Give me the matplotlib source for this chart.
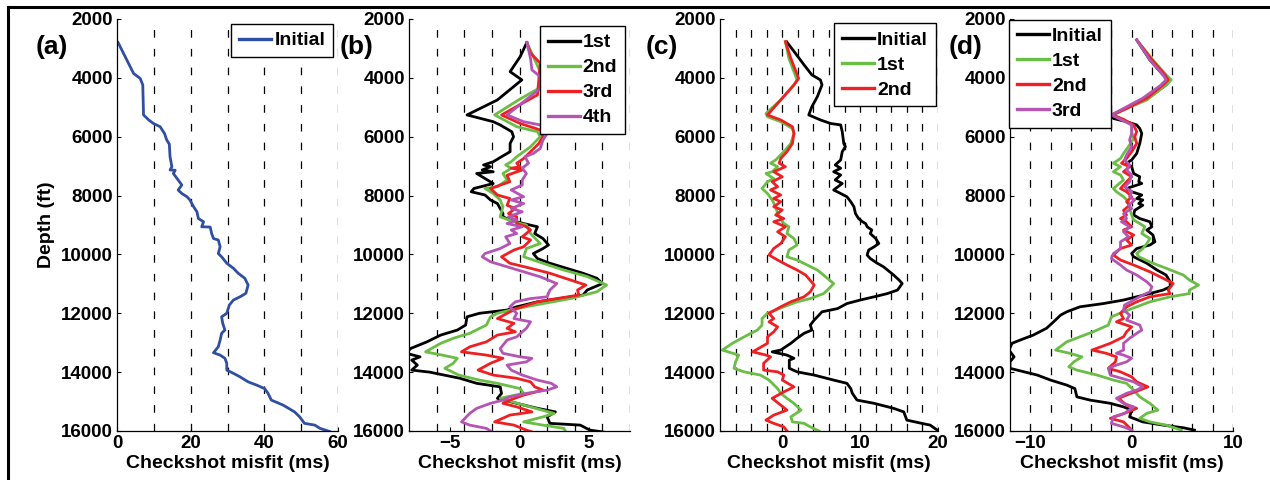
import numpy as np
import matplotlib
matplotlib.use('Agg')
import matplotlib.pyplot as plt
from matplotlib.lines import Line2D

plt.rcParams['font.family'] = ['Liberation Sans', 'DejaVu Sans']
plt.rcParams['font.weight'] = 'bold'
plt.rcParams['lines.scale_dashes'] = False

# colours
BLUE = '#2f4fa2'
BLACK = '#000000'
GREEN = '#6abd45'
RED = '#ee2024'
PURPLE = '#b455b4'

# ---- (a) initial model misfit
a_init_depth = [2800, 3850, 4020, 4240, 5260, 5430, 5550, 5660, 5890, 6110, 6250, 6680, 7020, 7130, 7140,
                7250, 7470, 7640, 7810, 7930, 8040, 8150, 8380, 8550, 8780, 8890, 9060, 9070, 9290, 9460,
                9510, 9740, 9970, 10080, 10300, 10470, 10640, 10810, 11040, 11320, 11440, 11550, 11720,
                12000, 12120, 12340, 12570, 12680, 12910, 13140, 13340, 13420, 13530, 13700, 13930, 14040,
                14160, 14330, 14440, 14560, 14720, 14950, 15120, 15350, 15520, 15740, 15800, 15910, 16020]
a_init_misfit = [0.3, 4.5, 6.3, 7.0, 7.2, 8.6, 9.9, 11.7, 12.9, 13.5, 14.2, 14.4, 14.9, 14.4, 15.8,
                 15.3, 16.6, 17.6, 16.6, 17.6, 19.0, 19.8, 20.8, 21.7, 22.1, 23.5, 23.0, 25.3, 25.7, 26.2,
                 27.5, 28.0, 27.5, 28.4, 29.8, 31.6, 32.9, 34.7, 35.6, 35.0, 33.4, 31.6, 30.5,
                 29.8, 28.4, 28.7, 29.3, 28.4, 28.0, 27.5, 26.2, 28.0, 29.3, 29.8, 29.8, 31.6,
                 33.4, 35.6, 37.9, 40.1, 41.0, 41.9, 45.1, 48.2, 49.6, 50.9, 53.7, 55.1, 57.8]

# ---- (b) iterations 1st..4th
b_1st_depth = [2800, 3280, 3790, 4070, 4750, 5260, 5490, 5600, 5830, 6000, 6230, 6510, 6680, 6850, 6960,
               7020, 7130, 7190, 7250, 7420, 7590, 7760, 7870, 7980, 8150, 8270, 8440, 8610, 8720, 8830,
               8950, 9060, 9290, 9460, 9680, 9800, 9970, 10140, 10300, 10470, 10640, 10810, 10990, 11210,
               11380, 11500, 11610, 11780, 11890, 12000, 12120, 12400, 12570, 12740, 12970, 13200, 13360,
               13480, 13590, 13760, 13930, 14000, 14210, 14380, 14500, 14720, 14890, 15060, 15230, 15350,
               15520, 15740, 15800, 15970, 16050]
b_1st_misfit = [0.53, 0.05, -0.68, 0.17, -1.6, -3.8, -1.9, -1.4, -0.56, -0.43, -0.68, -0.68, -1.3, -1.9, -2.6,
                -2.1, -2.7, -1.9, -3.1, -2.5, -1.9, -3.3, -3.5, -2.5, -2.1, -1.6, -1.4, -1.2, -1.2, -0.7,
                0.3, 1.3, 1.1, 1.7, 2.1, 1.7, 1.0, 1.3, 2.2, 3.4, 4.6, 5.6, 6.0, 4.9,
                4.6, 2.9, 1.3, -0.2, -0.9, -2.9, -3.8, -3.9, -4.5, -5.7, -6.7, -7.9, -8.2,
                -7.2, -7.8, -7.4, -7.8, -6.5, -4.3, -3.1, -1.4, -1.3, -1.6, -0.2, 1.3, 2.6,
                2.0, 2.2, 4.4, 5.1, 6.3]
b_2nd_depth = [2800, 3790, 4300, 4750, 5260, 5660, 5830, 6000, 6340, 6680, 6850, 6960, 7070, 7250, 7470,
               7700, 7760, 7930, 8150, 8380, 8720, 8890, 9000, 9290, 9630, 9800, 10080, 10300, 10530,
               10750, 11040, 11270, 11330, 11500, 11670, 11840, 12000, 12120, 12400, 12680, 12850, 13020,
               13310, 13420, 13530, 13700, 13870, 14100, 14270, 14380, 14560, 14720, 14890, 15120, 15400,
               15520, 15690, 15800, 15910, 16050]
b_2nd_misfit = [0.53, 1.5, 1.6, -0.07, -1.8, -0.2, 1.3, 1.5, 0.8, -0.2, -0.6, -1.0, -0.6, -1.2, -0.9,
                -1.6, -2.5, -1.9, -1.4, -1.2, -1.4, -0.4, 0.5, 0.8, 1.5, 0.5, 0.3, 1.7, 3.2,
                4.9, 6.3, 5.6, 5.1, 3.7, 1.7, -0.2, -1.6, -2.1, -2.4, -3.6, -4.8, -5.7,
                -6.8, -5.6, -4.5, -4.8, -5.4, -4.4, -2.9, -1.6, 0.05, 0.3, -1.4, 0.3, 2.5,
                1.7, 0.3, 1.7, 3.2, 3.4]
b_3rd_depth = [2800, 3160, 3500, 4580, 5260, 5550, 5770, 6000, 6230, 6510, 6740, 6900, 7020, 7070, 7130,
               7310, 7530, 7760, 7980, 8100, 8330, 8440, 8610, 8720, 8950, 9060, 9170, 9400, 9510, 9740,
               9850, 10080, 10300, 10470, 10640, 10870, 11040, 11210, 11380, 11500, 11610, 11840, 12000,
               12180, 12340, 12510, 12630, 12740, 12970, 13140, 13310, 13420, 13530, 13700, 13930, 14100,
               14210, 14330, 14500, 14610, 14780, 14950, 15060, 15180, 15350, 15460, 15690, 15800, 15970,
               16050]
b_3rd_misfit = [0.53, 0.8, 1.5, 1.3, -1.3, 0.05, 1.5, 1.7, 1.4, 0.8, 0.3, -0.2, 0.05, -0.6, 0.2,
                -0.9, -0.7, -2.1, -1.6, -0.7, -0.9, -0.3, -0.8, -0.2, -0.2, 0.5, 0.8, 0.2, 0.8, 0.3,
                -0.4, -1.3, -0.7, 0.8, 2.2, 3.7, 4.8, 4.2, 4.3, 2.7, 1.3, -0.2, -0.9,
                -1.6, -0.4, -0.9, -0.3, -1.6, -2.4, -3.6, -4.2, -2.4, -1.2, -2.1, -3.0, -1.9,
                -0.2, 0.8, 1.1, 1.7, 0.3, -0.7, -1.2, -0.2, 0.9, -0.7, -1.8, -0.4, 0.5,
                1.0]
b_4th_depth = [2800, 3340, 3730, 3960, 4360, 5260, 5490, 5600, 5890, 6110, 6400, 6570, 6680, 6900, 7070,
               7250, 7470, 7640, 7810, 8040, 8150, 8270, 8440, 8550, 8720, 8830, 8950, 9060, 9170, 9290,
               9400, 9630, 9800, 9970, 10080, 10250, 10420, 10590, 10760, 10990, 11210, 11440, 11500,
               11610, 11780, 12000, 12180, 12290, 12510, 12630, 12800, 12910, 13200, 13360, 13480, 13530,
               13650, 13760, 13930, 14100, 14270, 14380, 14500, 14610, 14720, 14840, 14950, 15060, 15230,
               15400, 15690, 15800, 15910, 16050]
b_4th_misfit = [0.53, 0.8, 0.9, 1.5, 1.5, -0.9, 0.3, 1.5, 2.0, 1.7, 1.5, 1.0, 0.4, 0.65, 0.2,
                0.5, 0.2, 0.2, -0.6, 0.3, -0.6, 0.3, -0.6, 0.2, -0.8, -0.2, -0.9, 0.2, -0.6, -0.2,
                -1.0, -0.7, -1.4, -2.5, -2.7, -2.1, -0.9, 0.3, 1.5, 2.7, 2.2, 2.0, 0.8,
                -0.3, -0.7, -0.2, -0.4, 0.8, 0.5, 0.2, -0.2, -0.9, -1.4, -1.2, 0.05, 0.9,
                0.5, -0.9, -0.6, 0.2, 1.3, 2.3, 2.7, 2.0, 0.5, -0.7, -1.2, -2.1, -3.1,
                -3.6, -4.2, -3.6, -2.4, -1.9]

# ---- (c) initial, 1st, 2nd
c_init_depth = [2770, 3170, 3560, 3900, 4070, 4240, 4640, 4980, 5260, 5430, 5550, 5600, 5830, 6230, 6340,
                6510, 6790, 6960, 7070, 7190, 7300, 7470, 7590, 7810, 7930, 8040, 8210, 8380, 8610, 8780,
                8890, 8950, 9060, 9170, 9290, 9460, 9630, 9740, 9850, 10020, 10140, 10300, 10420, 10700,
                10870, 10990, 11210, 11330, 11440, 11550, 11670, 11840, 11950, 12120, 12230, 12400, 12570,
                12680, 12850, 13020, 13250, 13310, 13420, 13530, 13590, 13870, 13990, 14100, 14270, 14380,
                14560, 14720, 14950, 15060, 15230, 15350, 15630, 15740, 15800, 15970]
c_init_misfit = [0.55, 1.7, 2.8, 3.8, 4.9, 5.1, 4.5, 3.8, 3.4, 4.9, 6.2, 7.5, 7.7, 7.9, 8.1,
                 7.7, 7.5, 6.8, 7.5, 6.6, 7.5, 6.8, 7.7, 6.6, 7.5, 8.3, 8.8, 9.2, 9.4, 9.8,
                 10.3, 10.7, 10.9, 11.5, 11.3, 12.0, 12.4, 11.8, 11.1, 10.9, 11.3, 12.2, 13.0, 14.3,
                 15.0, 15.4, 14.8, 13.5, 11.8, 10.0, 8.3, 7.1, 5.1, 4.5, 4.1, 3.6, 3.8,
                 2.8, 1.9, 1.1, -0.2, -1.3, 0.6, 1.5, 0.9, 0.9, 1.9, 4.1, 6.6, 8.3,
                 8.8, 9.0, 9.6, 11.8, 14.3, 15.6, 16.0, 17.9, 19.0, 19.9]
c_1st_depth = [2770, 3340, 4070, 4240, 4750, 5210, 5320, 5490, 5720, 5890, 6230, 6510, 6790, 6900, 7020,
               7190, 7250, 7420, 7530, 7760, 7930, 8150, 8380, 8610, 8780, 8950, 9060, 9290, 9460, 9680,
               9850, 10080, 10190, 10360, 10530, 10700, 10990, 11210, 11330, 11500, 11610, 11780, 12000,
               12180, 12400, 12570, 12800, 13020, 13250, 13420, 13650, 13870, 13990, 14100, 14270, 14560,
               14720, 14890, 15060, 15290, 15520, 15690, 15740, 15860, 16000]
c_1st_misfit = [0.4, 0.85, 1.9, 1.5, -0.2, -2.1, -1.9, -0.2, 1.3, 1.5, 1.1, 0.2, -0.85, -1.5, -0.6,
                -1.3, -2.1, -1.1, -1.9, -2.6, -1.9, -1.3, -0.85, -0.6, -0.2, 0.2, 0.85, 0.6, 1.5, 1.9,
                0.85, 0.6, 1.9, 3.2, 4.5, 5.3, 6.6, 5.8, 5.3, 3.6, 1.9, 0.2, -1.9,
                -2.6, -2.6, -3.2, -4.9, -6.4, -7.7, -5.6, -6.0, -6.2, -4.9, -2.8, -1.7, -0.6,
                -0.2, 0.6, 1.5, 2.4, 1.1, 1.3, 2.8, 3.6, 4.7]
c_2nd_depth = [2770, 3340, 4020, 4240, 4750, 5260, 5430, 5660, 5890, 6230, 6510, 6740, 6900, 7020, 7190,
               7360, 7530, 7700, 7810, 7980, 8100, 8210, 8380, 8490, 8660, 8780, 8890, 9060, 9230, 9400,
               9630, 9800, 10020, 10190, 10360, 10530, 10700, 11040, 11270, 11440, 11610, 11780, 12000,
               12180, 12290, 12460, 12630, 12800, 13020, 13310, 13420, 13480, 13700, 13930, 13990, 14100,
               14270, 14500, 14670, 14890, 15120, 15290, 15460, 15630, 15740, 15860, 16000]
c_2nd_misfit = [0.4, 1.1, 2.1, 1.5, -0.2, -1.9, -0.2, 1.3, 1.5, 1.3, 0.6, -0.2, -0.4, 0.4, -1.1,
                0.0, -1.3, -0.6, -1.5, -0.2, -1.1, -0.2, -1.1, 0.0, -0.85, 0.2, -1.1, 0.4, -0.6, 0.4,
                -0.2, -1.1, -1.7, -0.6, 0.6, 1.9, 3.0, 4.1, 3.6, 2.8, 1.1, -0.2, -1.7,
                -1.1, -1.7, -0.6, -1.1, -1.9, -1.9, -3.8, -2.1, -1.5, -2.4, -2.4, -0.6, 0.2,
                0.0, 1.5, 0.2, -1.3, -0.2, 0.6, -1.1, -2.1, -1.1, 0.2, 0.6]

# ---- (d) initial, 1st, 2nd, 3rd
d_init_depth = [2710, 3390, 3900, 4070, 4240, 4640, 4980, 5260, 5380, 5490, 5600, 5720, 5890, 6230, 6570,
                6790, 6900, 7020, 7250, 7360, 7530, 7590, 7760, 7870, 7980, 8100, 8150, 8270, 8330, 8500,
                8660, 8780, 8890, 9060, 9170, 9340, 9570, 9680, 9800, 9970, 10080, 10300, 10530, 10700,
                10930, 11100, 11210, 11330, 11440, 11550, 11670, 11780, 11950, 12060, 12290, 12510, 12740,
                12910, 13020, 13250, 13480, 13650, 13870, 13930, 14100, 14270, 14440, 14560, 14840, 14950,
                15060, 15180, 15290, 15520, 15690, 15800, 15890, 15970]
d_init_misfit = [0.5, 1.8, 3.1, 3.8, 3.4, 1.8, -0.2, -2.0, -1.8, -0.5, 0.5, 0.8, 1.0, 0.8, 0.5,
                 0.0, -0.5, 0.0, 0.2, 0.8, 0.7, 1.0, -0.5, 0.0, 1.0, 0.5, 1.1, 0.7, 1.1, 0.3,
                 0.2, 0.8, 1.8, 2.0, 1.5, 2.1, 2.3, 1.8, 0.5, 0.0, 0.2, 1.5, 2.5, 3.4,
                 3.8, 3.8, 3.1, 1.8, 0.5, -0.8, -2.8, -5.1, -6.4, -7.0, -7.7, -8.4, -9.7,
                 -11.0, -11.8, -12.1, -11.6, -12.0, -12.0, -11.3, -9.3, -8.0, -6.4, -5.6, -5.4, -4.1,
                 -2.1, -0.8, 0.0, -0.2, 1.1, 3.1, 5.1, 6.2]
d_1st_depth = [2710, 3390, 3900, 4070, 4240, 4750, 5040, 5260, 5430, 5600, 5830, 6060, 6280, 6570, 6740,
               6900, 7020, 7190, 7300, 7470, 7760, 7870, 8040, 8210, 8440, 8660, 8830, 8950, 9060, 9290,
               9460, 9630, 9800, 9970, 10080, 10300, 10470, 10700, 10870, 11040, 11210, 11330, 11440,
               11610, 11780, 11950, 12120, 12400, 12630, 12800, 12970, 13250, 13360, 13480, 13650, 13820,
               13930, 14100, 14270, 14380, 14610, 14840, 15060, 15290, 15400, 15570, 15690, 15800, 15970]
d_1st_misfit = [0.5, 2.1, 3.4, 3.9, 3.4, 1.5, -0.5, -1.8, -0.8, 0.0, 0.0, 0.2, -0.2, -0.8, -1.1,
                -1.8, -1.1, -1.8, -1.1, -0.8, -1.8, -1.5, -0.8, -0.3, -0.2, 0.0, 0.2, 0.8, 1.3, 1.0,
                1.8, 1.5, 1.1, 0.5, 0.7, 2.1, 3.4, 5.1, 5.7, 6.6, 5.7, 5.7, 3.8,
                1.8, 0.5, -0.8, -2.0, -2.3, -3.8, -5.1, -6.4, -7.5, -6.1, -4.9, -5.7, -6.2,
                -5.4, -3.4, -1.8, -0.5, 0.2, 0.8, 1.8, 2.6, 1.5, 0.8, 1.8, 3.4, 4.9]
d_2nd_depth = [2710, 3390, 3900, 4070, 4240, 4690, 5040, 5260, 5410, 5600, 5830, 6000, 6230, 6510, 6740,
               6900, 7020, 7190, 7360, 7530, 7760, 7870, 8040, 8210, 8330, 8500, 8660, 8780, 8890, 9060,
               9170, 9340, 9510, 9680, 9800, 10020, 10190, 10360, 10590, 10810, 10990, 11210, 11330,
               11440, 11610, 11780, 12000, 12180, 12290, 12460, 12630, 12800, 13020, 13250, 13360, 13480,
               13650, 13870, 13990, 14160, 14330, 14500, 14610, 14780, 14890, 15120, 15230, 15400, 15570,
               15690, 15860, 15970]
d_2nd_misfit = [0.5, 2.0, 3.3, 3.6, 3.1, 1.5, -0.5, -1.9, -0.8, 0.2, 0.5, 0.3, 0.5, 0.0, -0.5,
                -1.0, -0.2, -0.8, 0.0, -0.5, -1.1, -0.5, 0.0, -0.5, -0.2, -0.8, -0.5, -1.1, -0.5, 0.0,
                -0.8, 0.2, -0.5, 0.0, -1.1, -1.8, -1.1, 0.2, 1.8, 3.1, 4.1, 3.6, 3.8,
                1.8, 0.5, -0.5, -1.1, -0.8, -1.5, 0.0, -0.5, -0.8, -2.1, -3.9, -2.5, -1.5,
                -1.6, -2.3, -1.1, 0.0, 0.5, 1.6, 0.8, -0.5, -1.3, -0.5, 0.5, -0.7, -2.1,
                -0.8, -0.3, 0.0]
d_3rd_depth = [2710, 3390, 3900, 4070, 4270, 4690, 5040, 5260, 5430, 5600, 5890, 6110, 6340, 6620, 6790,
               6960, 7130, 7300, 7530, 7700, 7870, 8040, 8150, 8330, 8440, 8610, 8780, 8890, 9060, 9230,
               9400, 9570, 9800, 9970, 10140, 10360, 10530, 10700, 10930, 11100, 11270, 11380, 11550,
               11720, 11890, 12060, 12230, 12400, 12570, 12680, 12850, 13020, 13250, 13360, 13420, 13530,
               13650, 13760, 13870, 14100, 14210, 14330, 14500, 14610, 14720, 14890, 15060, 15180, 15400,
               15520, 15740, 15860, 15970]
d_3rd_misfit = [0.5, 1.8, 3.1, 3.4, 2.8, 1.1, -0.8, -2.0, -1.0, 0.0, 0.0, -0.2, 0.0, -0.5, -0.7,
                -0.2, -0.5, 0.0, -0.2, -0.7, 0.0, -0.2, 0.3, -0.3, 0.0, -0.8, -0.5, -1.0, -0.2, -0.8,
                -0.3, -1.1, -1.1, -1.8, -2.0, -1.1, -0.5, 0.5, 1.5, 2.0, 1.8, 1.1, 0.2,
                -0.7, -0.8, -0.2, -0.5, 0.8, 1.0, 0.5, -0.2, -0.8, -0.8, -1.5, -0.8, 0.0,
                -0.5, -1.5, -2.3, -2.1, -1.0, 0.2, 1.1, 0.5, -0.5, -1.5, -0.8, 0.2, -0.7,
                -1.8, -2.0, -0.8, 0.0]

W, H = 1270, 480
fig = plt.figure(figsize=(12.7, 4.8), dpi=100)


def px_axes(left, right, top=19, bottom=431):
    return fig.add_axes([left / W, (H - bottom) / H, (right - left) / W, (bottom - top) / H])


def style(ax, xlim, xticks, grid_x):
    ax.set_ylim(16000, 2000)
    ax.set_xlim(*xlim)
    ax.set_yticks(range(2000, 16001, 2000))
    ax.set_xticks(xticks)
    for g in grid_x:
        ax.axvline(g, color='black', lw=0.9, ls=(0, (5.5, 8)), zorder=0)
    ax.spines['top'].set_visible(False)
    ax.spines['right'].set_visible(False)
    for s in ('left', 'bottom'):
        ax.spines[s].set_linewidth(0.9)
    ax.tick_params(direction='in', length=3, width=0.8, labelsize=13.5, pad=3)
    for lab in ax.get_xticklabels() + ax.get_yticklabels():
        lab.set_fontweight('bold')
    ax.set_xlabel('Checkshot misfit (ms)', fontsize=14, fontweight='bold', labelpad=2)


def legend(ax, loc, anchor):
    leg = ax.legend(loc=loc, bbox_to_anchor=anchor, borderaxespad=0, fancybox=False,
                    framealpha=1, edgecolor='black', prop={'weight': 'bold', 'size': 14},
                    handlelength=1.65, handletextpad=0.15, labelspacing=0.38, borderpad=0.4)
    leg.get_frame().set_linewidth(1.0)
    for h in leg.get_lines():
        h.set_linewidth(2.4)


LW = 2.0

ax_a = px_axes(117, 338)
ax_a.plot(a_init_misfit, a_init_depth, color=BLUE, lw=LW, label='Initial')
style(ax_a, (0, 60), [0, 20, 40, 60], np.arange(10, 61, 10))
ax_a.set_ylabel('Depth (ft)', fontsize=14, fontweight='bold', labelpad=4)
legend(ax_a, 'upper right', (0.977, 0.988))

ax_b = px_axes(409, 630)
ax_b.plot(b_1st_misfit, b_1st_depth, color=BLACK, lw=LW, label='1st')
ax_b.plot(b_2nd_misfit, b_2nd_depth, color=GREEN, lw=LW, label='2nd')
ax_b.plot(b_3rd_misfit, b_3rd_depth, color=RED, lw=LW, label='3rd')
ax_b.plot(b_4th_misfit, b_4th_depth, color=PURPLE, lw=LW, label='4th')
style(ax_b, (-8, 8), [-5, 0, 5], np.arange(-6, 9, 2))
legend(ax_b, 'upper right', (0.977, 0.983))

ax_c = px_axes(720, 938)
ax_c.plot(c_init_misfit, c_init_depth, color=BLACK, lw=LW, label='Initial')
ax_c.plot(c_1st_misfit, c_1st_depth, color=GREEN, lw=LW, label='1st')
ax_c.plot(c_2nd_misfit, c_2nd_depth, color=RED, lw=LW, label='2nd')
style(ax_c, (-8, 20), [0, 10, 20], np.arange(-6, 21, 2))
legend(ax_c, 'upper right', (0.99, 0.99))

ax_d = px_axes(1010, 1233)
ax_d.plot(d_init_misfit, d_init_depth, color=BLACK, lw=LW, label='Initial')
ax_d.plot(d_1st_misfit, d_1st_depth, color=GREEN, lw=LW, label='1st')
ax_d.plot(d_2nd_misfit, d_2nd_depth, color=RED, lw=LW, label='2nd')
ax_d.plot(d_3rd_misfit, d_3rd_depth, color=PURPLE, lw=LW, label='3rd')
style(ax_d, (-12, 10), [-10, 0, 10], np.arange(-10, 11, 2))
legend(ax_d, 'upper left', (-0.004, 0.998))

# panel letters
for lab, x in (('(a)', 52), ('(b)', 357), ('(c)', 662), ('(d)', 966)):
    fig.text(x / W, 1 - 47 / H, lab, fontsize=19, fontweight='bold', ha='center', va='center')

# outer frame, cropped on the right and bottom
frame_top = 1 - 7 / H
fig.add_artist(Line2D([8 / W, 8 / W], [0, frame_top], transform=fig.transFigure,
                      color='black', lw=2.2, solid_capstyle='projecting', zorder=10))
fig.add_artist(Line2D([8 / W, 1], [frame_top, frame_top], transform=fig.transFigure,
                      color='black', lw=2.2, solid_capstyle='projecting', zorder=10))

fig.savefig('out.png', dpi=100)
